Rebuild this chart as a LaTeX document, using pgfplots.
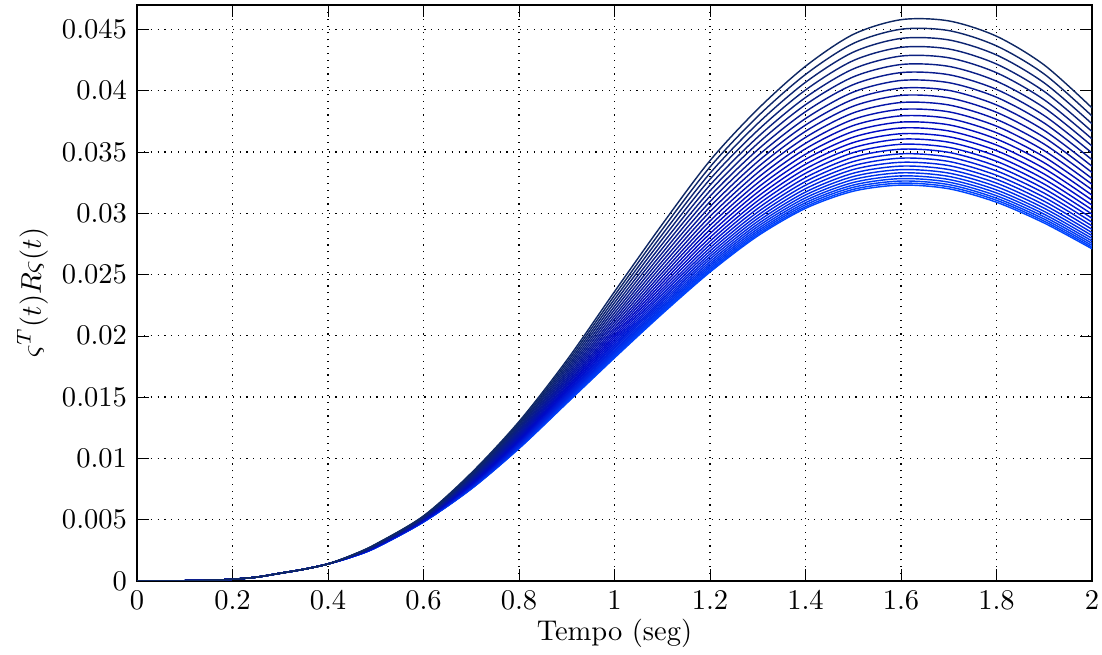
\documentclass[border=0pt]{standalone}
\usepackage{pgfplots}
\pgfplotsset{compat=1.18}
\usepackage{pgfplotstable}

\definecolor{cbot}{RGB}{0,70,255}
\definecolor{cmid}{RGB}{0,10,200}
\definecolor{ctop}{RGB}{15,40,100}

% one column per curve (c0 = lowest, c29 = highest)
\pgfplotstableread{
x c0 c1 c2 c3 c4 c5 c6 c7 c8 c9 c10 c11 c12 c13 c14 c15 c16 c17 c18 c19 c20 c21 c22 c23 c24 c25 c26 c27 c28 c29
0    0 0 0 0 0 0 0 0 0 0  0 0 0 0 0 0 0 0 0 0  0 0 0 0 0 0 0 0 0 0
0.05 0 0 0 0 0 0 0 0 0 0  0 0 0 0 0 0 0 0 0 0  0 0 0 0 0 0 0 0 0 0
0.1  0.00001 0.00001 0.00001 0.00001 0.00001 0.00001 0.00001 0.00001 0.00001 0.00001 0.00001 0.00001 0.00001 0.00001 0.00001 0.00001 0.00001 0.00001 0.00001 0.00001 0.00001 0.00001 0.00001 0.00001 0.00001 0.00001 0.00001 0.00001 0.00001 0.00001
0.15 0.00004 0.00004 0.00004 0.00004 0.00004 0.00004 0.00004 0.00004 0.00004 0.00004 0.00004 0.00004 0.00004 0.00004 0.00004 0.00004 0.00004 0.00004 0.00004 0.00004 0.00004 0.00004 0.00004 0.00004 0.00004 0.00004 0.00004 0.00004 0.00004 0.00004
0.2  0.00013 0.00013 0.00013 0.00013 0.00013 0.00013 0.00013 0.00013 0.00013 0.00013 0.00013 0.00013 0.00013 0.00013 0.00013 0.00013 0.00013 0.00013 0.00013 0.00013 0.00013 0.00013 0.00013 0.00013 0.00013 0.00013 0.00013 0.00013 0.00013 0.00013
0.25 0.00030 0.00030 0.00030 0.00030 0.00030 0.00030 0.00030 0.00030 0.00030 0.00030 0.00030 0.00030 0.00030 0.00030 0.00030 0.00030 0.00030 0.00030 0.00030 0.00030 0.00030 0.00030 0.00030 0.00030 0.00030 0.00030 0.00030 0.00030 0.00030 0.00030
0.3  0.00062 0.00062 0.00062 0.00062 0.00062 0.00062 0.00062 0.00062 0.00062 0.00062 0.00062 0.00062 0.00062 0.00062 0.00062 0.00062 0.00062 0.00062 0.00062 0.00062 0.00062 0.00062 0.00062 0.00062 0.00062 0.00062 0.00062 0.00062 0.00062 0.00062
0.35 0.00095 0.00095 0.00095 0.00095 0.00095 0.00095 0.00095 0.00095 0.00095 0.00095 0.00095 0.00095 0.00095 0.00095 0.00095 0.00095 0.00095 0.00095 0.00095 0.00095 0.00095 0.00095 0.00095 0.00095 0.00095 0.00095 0.00095 0.00095 0.00095 0.00095
0.4  0.00138 0.00138 0.00138 0.00138 0.00138 0.00138 0.00138 0.00138 0.00138 0.00138 0.00138 0.00138 0.00138 0.00138 0.00138 0.00138 0.00138 0.00138 0.00138 0.00138 0.00138 0.00138 0.00138 0.00138 0.00138 0.00138 0.00138 0.00138 0.00138 0.00138
0.45 0.00195 0.00195 0.00195 0.00196 0.00196 0.00196 0.00196 0.00197 0.00197 0.00197 0.00198 0.00198 0.00199 0.00199 0.00200 0.00200 0.00201 0.00201 0.00202 0.00202 0.00203 0.00204 0.00204 0.00205 0.00206 0.00207 0.00207 0.00208 0.00209 0.00210
0.5  0.00270 0.00270 0.00271 0.00271 0.00272 0.00272 0.00273 0.00273 0.00274 0.00275 0.00276 0.00276 0.00277 0.00278 0.00279 0.00280 0.00281 0.00283 0.00284 0.00285 0.00286 0.00288 0.00289 0.00290 0.00292 0.00293 0.00295 0.00297 0.00298 0.00300
0.6  0.00480 0.00481 0.00481 0.00482 0.00483 0.00484 0.00485 0.00486 0.00487 0.00488 0.00489 0.00491 0.00492 0.00494 0.00496 0.00497 0.00499 0.00501 0.00503 0.00505 0.00507 0.00509 0.00512 0.00514 0.00516 0.00519 0.00522 0.00524 0.00527 0.00530
0.7  0.00750 0.00752 0.00753 0.00755 0.00757 0.00760 0.00762 0.00765 0.00768 0.00771 0.00775 0.00778 0.00782 0.00786 0.00790 0.00795 0.00800 0.00804 0.00810 0.00815 0.00820 0.00826 0.00832 0.00838 0.00845 0.00851 0.00858 0.00865 0.00873 0.00880
0.8  0.01080 0.01083 0.01085 0.01089 0.01092 0.01096 0.01101 0.01105 0.01110 0.01116 0.01122 0.01128 0.01134 0.01141 0.01148 0.01156 0.01164 0.01172 0.01181 0.01190 0.01199 0.01209 0.01219 0.01230 0.01240 0.01252 0.01263 0.01275 0.01287 0.01300
0.9  0.01450 0.01454 0.01459 0.01464 0.01470 0.01476 0.01483 0.01490 0.01498 0.01507 0.01516 0.01526 0.01536 0.01547 0.01559 0.01571 0.01583 0.01597 0.01610 0.01625 0.01640 0.01655 0.01671 0.01688 0.01705 0.01723 0.01741 0.01760 0.01780 0.01800
1.0  0.01820 0.01826 0.01833 0.01841 0.01850 0.01860 0.01871 0.01882 0.01895 0.01908 0.01922 0.01937 0.01953 0.01970 0.01988 0.02006 0.02026 0.02046 0.02067 0.02090 0.02113 0.02137 0.02161 0.02187 0.02214 0.02241 0.02270 0.02299 0.02329 0.02360
1.1  0.02180 0.02188 0.02198 0.02209 0.02221 0.02234 0.02248 0.02264 0.02281 0.02299 0.02318 0.02338 0.02360 0.02383 0.02407 0.02432 0.02458 0.02486 0.02514 0.02544 0.02576 0.02608 0.02642 0.02676 0.02712 0.02749 0.02788 0.02827 0.02868 0.02910
1.2  0.02520 0.02530 0.02542 0.02556 0.02571 0.02587 0.02605 0.02625 0.02646 0.02668 0.02692 0.02717 0.02744 0.02772 0.02802 0.02834 0.02867 0.02901 0.02937 0.02974 0.03013 0.03053 0.03095 0.03139 0.03183 0.03230 0.03278 0.03327 0.03378 0.03430
1.3  0.02815 0.02827 0.02841 0.02856 0.02873 0.02892 0.02912 0.02934 0.02958 0.02983 0.03010 0.03039 0.03070 0.03102 0.03136 0.03172 0.03209 0.03248 0.03289 0.03332 0.03376 0.03422 0.03469 0.03519 0.03570 0.03622 0.03677 0.03733 0.03791 0.03850
1.4  0.03040 0.03053 0.03069 0.03086 0.03105 0.03126 0.03149 0.03173 0.03200 0.03229 0.03259 0.03291 0.03326 0.03362 0.03400 0.03440 0.03482 0.03526 0.03571 0.03619 0.03669 0.03720 0.03773 0.03829 0.03886 0.03945 0.04006 0.04069 0.04133 0.04200
1.5  0.03180 0.03195 0.03212 0.03230 0.03251 0.03275 0.03300 0.03327 0.03357 0.03388 0.03422 0.03457 0.03495 0.03535 0.03577 0.03621 0.03668 0.03716 0.03766 0.03819 0.03874 0.03930 0.03989 0.04050 0.04113 0.04178 0.04246 0.04315 0.04386 0.04460
1.6  0.03230 0.03246 0.03263 0.03283 0.03305 0.03330 0.03356 0.03385 0.03416 0.03450 0.03485 0.03523 0.03563 0.03605 0.03649 0.03696 0.03744 0.03795 0.03848 0.03904 0.03962 0.04021 0.04084 0.04148 0.04214 0.04283 0.04354 0.04427 0.04502 0.04580
1.7  0.03200 0.03216 0.03234 0.03254 0.03276 0.03301 0.03328 0.03357 0.03389 0.03423 0.03459 0.03497 0.03537 0.03580 0.03625 0.03672 0.03722 0.03774 0.03828 0.03884 0.03942 0.04003 0.04066 0.04131 0.04199 0.04269 0.04341 0.04415 0.04491 0.04570
1.8  0.03090 0.03106 0.03123 0.03143 0.03166 0.03190 0.03217 0.03246 0.03277 0.03310 0.03346 0.03384 0.03424 0.03466 0.03511 0.03557 0.03606 0.03657 0.03711 0.03766 0.03824 0.03884 0.03947 0.04011 0.04078 0.04147 0.04218 0.04292 0.04366 0.04445
1.9  0.02920 0.02935 0.02952 0.02971 0.02992 0.03015 0.03041 0.03068 0.03098 0.03130 0.03164 0.03200 0.03238 0.03278 0.03320 0.03365 0.03412 0.03460 0.03511 0.03564 0.03619 0.03676 0.03736 0.03797 0.03861 0.03926 0.03994 0.04064 0.04136 0.04210
2.0  0.02710 0.02723 0.02738 0.02755 0.02774 0.02795 0.02818 0.02842 0.02869 0.02897 0.02927 0.02959 0.02993 0.03029 0.03067 0.03107 0.03148 0.03192 0.03237 0.03284 0.03333 0.03384 0.03437 0.03492 0.03549 0.03607 0.03667 0.03730 0.03794 0.03860
}\curves

\begin{document}
\begin{tikzpicture}
\begin{axis}[
    width=335pt, height=202pt, scale only axis,
    xmin=0, xmax=2, ymin=0, ymax=0.047,
    xtick={0,0.2,0.4,0.6,0.8,1,1.2,1.4,1.6,1.8,2},
    ytick={0,0.005,0.01,0.015,0.02,0.025,0.03,0.035,0.04,0.045},
    scaled y ticks=false,
    yticklabel style={/pgf/number format/fixed,/pgf/number format/precision=3},
    xticklabel style={/pgf/number format/fixed},
    grid=major,
    major grid style={black, dotted, line width=0.4pt},
    tick align=inside,
    tick style={black},
    axis line style={black, line width=0.5pt},
    xlabel={Tempo (seg)},
    ylabel={$\varsigma^T(t)R\varsigma(t)$},
    xlabel style={yshift=3.5pt},
    ylabel style={yshift=-2pt},
]
\foreach \k in {0,...,29}{
  \pgfmathtruncatemacro\p{round(\k*100/29)}
  \ifnum\p<50
    \pgfmathtruncatemacro\q{\p*2}\edef\col{cmid!\q!cbot}
  \else
    \pgfmathtruncatemacro\q{(\p-50)*2}\edef\col{ctop!\q!cmid}
  \fi
  \edef\temp{\noexpand\addplot[color=\col, line width=0.5pt, smooth, no markers]
    table[x index=0, y index=\the\numexpr\k+1\relax] {\noexpand\curves};}
  \temp
}
\coordinate (sw) at (rel axis cs:0,0);
\coordinate (ne) at (rel axis cs:1,1);
\end{axis}
\pgfresetboundingbox
\path ([shift={(-48.06pt,-25.96pt)}]sw) rectangle ([shift={(3.51pt,1.75pt)}]ne);
\end{tikzpicture}
\end{document}
